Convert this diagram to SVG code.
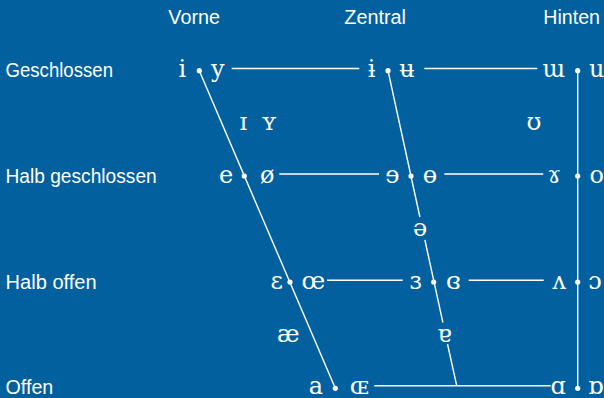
<svg xmlns="http://www.w3.org/2000/svg" width="604" height="398" viewBox="0 0 604 398">
<style>
.bg{fill:#02609e}
.lbl{font-family:"Liberation Sans",Arial,sans-serif;font-size:20px;fill:#ffffff}
.v{font-family:"DejaVu Serif","Liberation Serif",serif;font-size:24px;fill:#ffffff;text-anchor:middle}
.ln{stroke:#ffffff;stroke-width:1.4;fill:none}
.dot{fill:#ffffff}
</style>
<rect class="bg" x="0" y="0" width="604" height="398"/>
<g id="headers">
<text class="lbl" x="168.3" y="24" textLength="51.7" lengthAdjust="spacingAndGlyphs">Vorne</text>
<text class="lbl" x="344.3" y="24" textLength="61.7" lengthAdjust="spacingAndGlyphs">Zentral</text>
<text class="lbl" x="543.3" y="24" textLength="56.7" lengthAdjust="spacingAndGlyphs">Hinten</text>
</g>
<g id="rowlabels">
<text class="lbl" x="5.5" y="76.5" textLength="107.5" lengthAdjust="spacingAndGlyphs">Geschlossen</text>
<text class="lbl" x="5.5" y="182.5" textLength="151.2" lengthAdjust="spacingAndGlyphs">Halb geschlossen</text>
<text class="lbl" x="5.5" y="288.5" textLength="91.2" lengthAdjust="spacingAndGlyphs">Halb offen</text>
<text class="lbl" x="5.5" y="394" textLength="47.8" lengthAdjust="spacingAndGlyphs">Offen</text>
</g>
<g id="connectors">
<line class="ln" x1="199.3" y1="70.7" x2="335.3" y2="388.3"/>
<line class="ln" x1="388" y1="70.7" x2="419.9" y2="217"/>
<line class="ln" x1="424.9" y1="240" x2="442.9" y2="322.7"/>
<line class="ln" x1="447.5" y1="344" x2="456.7" y2="385.7"/>
<line class="ln" x1="577.7" y1="70.7" x2="577.7" y2="388.3"/>
<line class="ln" x1="231.7" y1="68.5" x2="359.3" y2="68.5"/>
<line class="ln" x1="424.3" y1="68.5" x2="537.3" y2="68.5"/>
<line class="ln" x1="279.3" y1="174" x2="379" y2="174"/>
<line class="ln" x1="444.3" y1="174" x2="543.3" y2="174"/>
<line class="ln" x1="327" y1="280.3" x2="402.7" y2="280.3"/>
<line class="ln" x1="468.7" y1="280.3" x2="543.7" y2="280.3"/>
<line class="ln" x1="374.3" y1="385.7" x2="550.7" y2="385.7"/>
</g>
<g id="dots">
<circle class="dot" cx="199.3" cy="70.7" r="2.6"/>
<circle class="dot" cx="388" cy="70.7" r="2.6"/>
<circle class="dot" cx="577.7" cy="70.7" r="2.6"/>
<circle class="dot" cx="244.3" cy="176" r="2.6"/>
<circle class="dot" cx="411" cy="176" r="2.6"/>
<circle class="dot" cx="577.7" cy="176" r="2.6"/>
<circle class="dot" cx="290" cy="282" r="2.6"/>
<circle class="dot" cx="433.7" cy="282" r="2.6"/>
<circle class="dot" cx="577.7" cy="282" r="2.6"/>
<circle class="dot" cx="335.3" cy="388.3" r="2.6"/>
<circle class="dot" cx="577.7" cy="388.3" r="2.6"/>
</g>
<g id="v-i"><text class="v" x="182.3" y="76.5">i</text></g>
<g id="v-y"><text class="v" x="217.7" y="76.5">y</text></g>
<g id="v-ɨ"><text class="v" x="371.7" y="76.5">ɨ</text></g>
<g id="v-ʉ"><text class="v" x="407" y="76.5">ʉ</text></g>
<g id="v-ɯ"><text class="v" x="554" y="76.5">ɯ</text></g>
<g id="v-u"><text class="v" x="596.7" y="76.5">u</text></g>
<g id="v-ɪ"><text class="v" x="243.3" y="130">ɪ</text></g>
<g id="v-ʏ"><text class="v" x="269" y="130">ʏ</text></g>
<g id="v-ʊ"><text class="v" x="534" y="130">ʊ</text></g>
<g id="v-e"><text class="v" x="226" y="182.5">e</text></g>
<g id="v-ø"><text class="v" x="267.3" y="182.5">ø</text></g>
<g id="v-ɘ"><text class="v" x="392.3" y="182.5">ɘ</text></g>
<g id="v-ɵ"><text class="v" x="430" y="182.5">ɵ</text></g>
<g id="v-ɤ"><text class="v" x="554.3" y="182.5">ɤ</text></g>
<g id="v-o"><text class="v" x="596.7" y="182.5">o</text></g>
<g id="v-ə"><text class="v" x="420" y="236">ə</text></g>
<g id="v-ɛ"><text class="v" x="276.7" y="288.5">ɛ</text></g>
<g id="v-œ"><text class="v" x="313.3" y="288.5">œ</text></g>
<g id="v-ɜ"><text class="v" x="415.7" y="288.5">ɜ</text></g>
<g id="v-ɞ"><text class="v" x="453.3" y="288.5">ɞ</text></g>
<g id="v-ʌ"><text class="v" x="559.3" y="288.5">ʌ</text></g>
<g id="v-ɔ"><text class="v" x="595" y="288.5">ɔ</text></g>
<g id="v-æ"><text class="v" x="288.3" y="341.5">æ</text></g>
<g id="v-ɐ"><text class="v" x="444.3" y="341.5">ɐ</text></g>
<g id="v-a"><text class="v" x="316" y="394">a</text></g>
<g id="v-ɶ"><text class="v" x="359.3" y="394">ɶ</text></g>
<g id="v-ɑ"><text class="v" x="558.3" y="394">ɑ</text></g>
<g id="v-ɒ"><text class="v" x="595.7" y="394">ɒ</text></g>
</svg>
